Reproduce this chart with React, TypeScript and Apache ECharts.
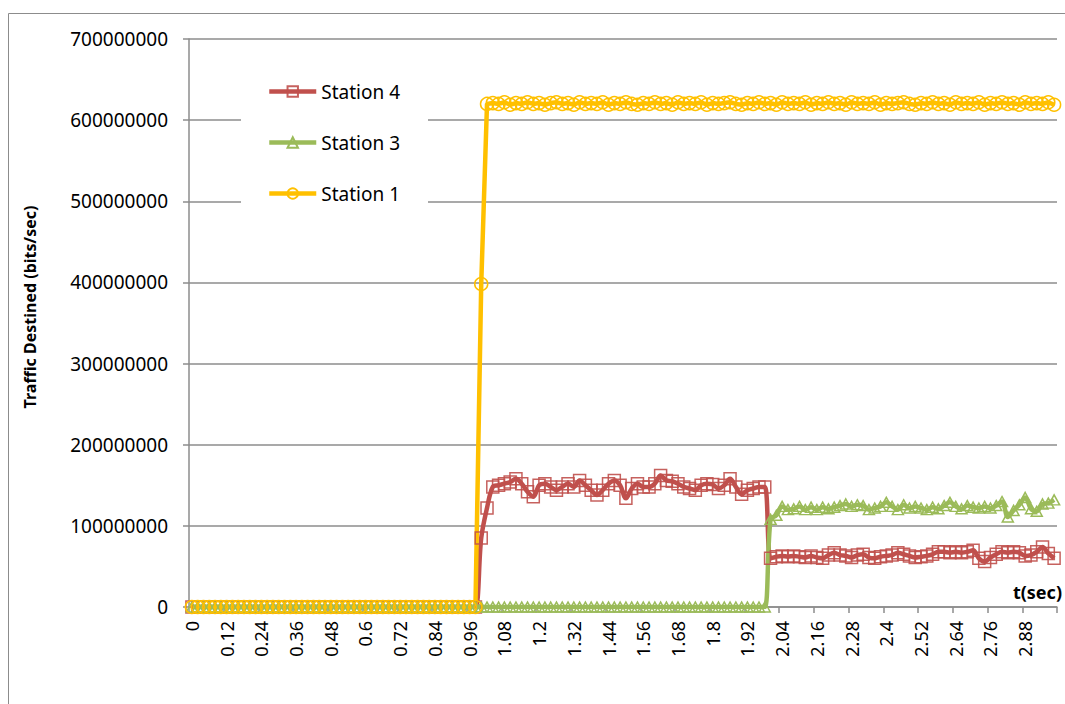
import React, { useEffect, useRef } from "react";
import * as echarts from "echarts";

// t (sec) categories: 0 .. 2.98 step 0.02
const categories = [
  0, 0.02, 0.04, 0.06, 0.08, 0.1, 0.12, 0.14, 0.16, 0.18,
  0.2, 0.22, 0.24, 0.26, 0.28, 0.3, 0.32, 0.34, 0.36, 0.38,
  0.4, 0.42, 0.44, 0.46, 0.48, 0.5, 0.52, 0.54, 0.56, 0.58,
  0.6, 0.62, 0.64, 0.66, 0.68, 0.7, 0.72, 0.74, 0.76, 0.78,
  0.8, 0.82, 0.84, 0.86, 0.88, 0.9, 0.92, 0.94, 0.96, 0.98,
  1, 1.02, 1.04, 1.06, 1.08, 1.1, 1.12, 1.14, 1.16, 1.18,
  1.2, 1.22, 1.24, 1.26, 1.28, 1.3, 1.32, 1.34, 1.36, 1.38,
  1.4, 1.42, 1.44, 1.46, 1.48, 1.5, 1.52, 1.54, 1.56, 1.58,
  1.6, 1.62, 1.64, 1.66, 1.68, 1.7, 1.72, 1.74, 1.76, 1.78,
  1.8, 1.82, 1.84, 1.86, 1.88, 1.9, 1.92, 1.94, 1.96, 1.98,
  2, 2.02, 2.04, 2.06, 2.08, 2.1, 2.12, 2.14, 2.16, 2.18,
  2.2, 2.22, 2.24, 2.26, 2.28, 2.3, 2.32, 2.34, 2.36, 2.38,
  2.4, 2.42, 2.44, 2.46, 2.48, 2.5, 2.52, 2.54, 2.56, 2.58,
  2.6, 2.62, 2.64, 2.66, 2.68, 2.7, 2.72, 2.74, 2.76, 2.78,
  2.8, 2.82, 2.84, 2.86, 2.88, 2.9, 2.92, 2.94, 2.96, 2.98,
];

// values in millions of bits/sec
const station4 = [
  0, 0, 0, 0, 0, 0, 0, 0, 0, 0,
  0, 0, 0, 0, 0, 0, 0, 0, 0, 0,
  0, 0, 0, 0, 0, 0, 0, 0, 0, 0,
  0, 0, 0, 0, 0, 0, 0, 0, 0, 0,
  0, 0, 0, 0, 0, 0, 0, 0, 0, 0,
  85, 122, 148, 150, 152, 154, 158, 152, 142, 136,
  150, 152, 148, 144, 148, 152, 148, 156, 150, 144,
  138, 144, 152, 156, 150, 134, 146, 152, 148, 148,
  152, 162, 156, 155, 152, 148, 146, 144, 150, 152,
  151, 146, 150, 158, 148, 139, 144, 146, 148, 148,
  60, 62, 63, 62, 63, 62, 61, 63, 61, 60,
  64, 67, 64, 63, 61, 64, 65, 61, 60, 62,
  63, 64, 67, 65, 63, 61, 62, 63, 65, 68,
  68, 67, 68, 67, 68, 70, 60, 56, 61, 65,
  68, 67, 68, 67, 63, 64, 68, 74, 66, 60,
];

const station3 = [
  0, 0, 0, 0, 0, 0, 0, 0, 0, 0,
  0, 0, 0, 0, 0, 0, 0, 0, 0, 0,
  0, 0, 0, 0, 0, 0, 0, 0, 0, 0,
  0, 0, 0, 0, 0, 0, 0, 0, 0, 0,
  0, 0, 0, 0, 0, 0, 0, 0, 0, 0,
  0, 0, 0, 0, 0, 0, 0, 0, 0, 0,
  0, 0, 0, 0, 0, 0, 0, 0, 0, 0,
  0, 0, 0, 0, 0, 0, 0, 0, 0, 0,
  0, 0, 0, 0, 0, 0, 0, 0, 0, 0,
  0, 0, 0, 0, 0, 0, 0, 0, 0, 0,
  108, 113, 124, 120, 121, 124, 120, 123, 120, 123,
  121, 123, 125, 127, 124, 126, 125, 120, 122, 124,
  129, 124, 120, 126, 122, 124, 122, 120, 123, 121,
  125, 129, 124, 121, 125, 123, 122, 124, 122, 125,
  130, 111, 119, 126, 135, 121, 118, 127, 128, 132,
];

const station1 = [
  0, 0, 0, 0, 0, 0, 0, 0, 0, 0,
  0, 0, 0, 0, 0, 0, 0, 0, 0, 0,
  0, 0, 0, 0, 0, 0, 0, 0, 0, 0,
  0, 0, 0, 0, 0, 0, 0, 0, 0, 0,
  0, 0, 0, 0, 0, 0, 0, 0, 0, 0,
  398, 620, 621, 620, 622, 619, 621, 620, 622, 620,
  621, 619, 621, 622, 620, 621, 619, 622, 620, 621,
  620, 622, 619, 621, 620, 622, 620, 619, 621, 620,
  622, 620, 621, 619, 622, 620, 621, 620, 622, 619,
  621, 620, 621, 622, 620, 619, 621, 620, 622, 620,
  621, 619, 622, 620, 621, 620, 622, 619, 621, 620,
  622, 620, 621, 619, 622, 620, 621, 620, 622, 619,
  621, 620, 621, 622, 620, 619, 621, 620, 622, 620,
  621, 619, 622, 620, 621, 620, 622, 619, 621, 620,
  622, 620, 621, 619, 622, 620, 621, 620, 622, 619,
];

const MILLION = 1000000;
const yTicks = { min: 0, max: 700000000, interval: 100000000 };

const FONT = "Noto Sans";
const GRID_COLOR = "#8c8c8c";

export default function App() {
  const ref = useRef<HTMLDivElement>(null);

  useEffect(() => {
    if (!ref.current) return;
    const chart = echarts.init(ref.current, null, { renderer: "svg" });
    const toBits = (arr: number[]) => arr.map((v) => v * MILLION);

    chart.setOption({
      animation: false,
      backgroundColor: "#ffffff",
      textStyle: { fontFamily: FONT },
      grid: { left: 189, right: 8, top: 39, bottom: 97, containLabel: false },
      legend: {
        orient: "vertical",
        left: 241,
        top: 68,
        itemGap: 32,
        itemWidth: 47,
        itemHeight: 13,
        padding: [14, 28, 14, 26],
        backgroundColor: "#ffffff",
        data: ["Station 4", "Station 3", "Station 1"],
        lineStyle: { width: 4.5 },
        textStyle: { fontFamily: FONT, fontSize: 19, color: "#000" },
      },
      xAxis: {
        type: "category",
        data: categories,
        boundaryGap: true,
        axisLine: { lineStyle: { color: GRID_COLOR, width: 1.5 } },
        axisTick: { show: true, interval: 5, length: 6, lineStyle: { color: GRID_COLOR, width: 1.5 } },
        axisLabel: {
          interval: 5,
          rotate: 90,
          margin: 14,
          fontFamily: FONT,
          fontSize: 18,
          color: "#000",
        },
        splitLine: { show: false },
      },
      yAxis: {
        type: "value",
        min: yTicks.min,
        max: yTicks.max,
        interval: yTicks.interval,
        axisLine: { show: true, lineStyle: { color: GRID_COLOR, width: 1.5 } },
        axisTick: { show: true, length: 6, lineStyle: { color: GRID_COLOR, width: 1.5 } },
        axisLabel: {
          margin: 21,
          fontFamily: FONT,
          fontSize: 19,
          color: "#000",
          formatter: (v: number) => String(v),
        },
        splitLine: { show: true, lineStyle: { color: GRID_COLOR, width: 1.5 } },
      },
      graphic: [
        {
          type: "rect",
          silent: true,
          shape: { x: 8.5, y: 13.5, width: 1070, height: 720 },
          style: { fill: "none", stroke: "#8c8c8c", lineWidth: 1 },
          z: -10,
        },
        {
          type: "text",
          right: 3,
          top: 583,
          style: {
            text: "t(sec)",
            font: `bold 18px "${FONT}"`,
            fill: "#000",
          },
        },
        {
          type: "text",
          x: 30,
          y: 307,
          rotation: Math.PI / 2,
          style: {
            text: "Traffic Destined (bits/sec)",
            font: `bold 16px "${FONT}"`,
            fill: "#000",
            align: "center",
            verticalAlign: "middle",
          },
        },
      ],
      series: [
        {
          name: "Station 4",
          type: "line",
          data: toBits(station4),
          color: "#C0504D",
          smooth: 0.35,
          symbol: "rect",
          symbolSize: 12,
          showSymbol: true,
          showAllSymbol: true,
          lineStyle: { color: "#C0504D", width: 4.5 },
          itemStyle: { color: "rgba(255,255,255,0)", borderColor: "#C0504D", borderWidth: 1.5, opacity: 0.9 },
        },
        {
          name: "Station 3",
          type: "line",
          data: toBits(station3),
          color: "#9BBB59",
          smooth: 0.35,
          symbol: "triangle",
          symbolSize: [11, 10],
          showSymbol: true,
          showAllSymbol: true,
          lineStyle: { color: "#9BBB59", width: 4.5 },
          itemStyle: { color: "rgba(255,255,255,0)", borderColor: "#9BBB59", borderWidth: 1.5 },
        },
        {
          name: "Station 1",
          type: "line",
          data: toBits(station1),
          color: "#FFC000",
          smooth: false,
          symbol: "circle",
          symbolSize: 13,
          showSymbol: true,
          showAllSymbol: true,
          lineStyle: { color: "#FFC000", width: 4.5 },
          itemStyle: { color: "rgba(255,255,255,0)", borderColor: "#FFC000", borderWidth: 1.5 },
        },
      ],
    });

    return () => chart.dispose();
  }, []);

  return (
    <div
      ref={ref}
      style={{ position: "fixed", left: 0, top: 0, width: 1065, height: 704, background: "#fff" }}
    />
  );
}
